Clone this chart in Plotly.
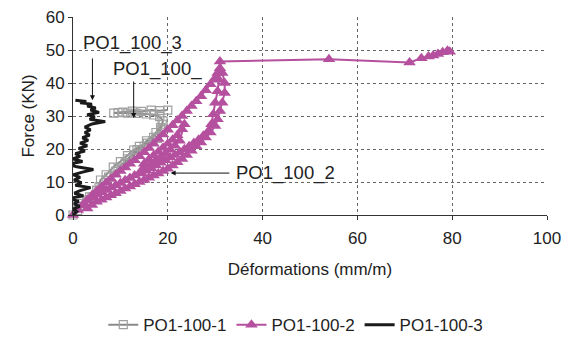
import plotly.graph_objects as go

# PO1-100-1 (gray, open squares)
s1_x = [0, 1, 2, 3, 4, 5, 5.8, 7, 8.5, 10, 11.5, 12.8, 14, 15.7, 16.8, 17.8, 18.5, 18.8,
        17.5, 15.5, 13.5, 11.5, 9.5, 7.5, 5.5, 3.5, 2,
        3, 5, 7, 9, 11, 13, 15, 17, 18.5, 19, 18.3, 17, 15.5, 13.5, 11.5, 9.5, 8.6,
        10.5, 12.5, 14.5, 16.5, 18.3, 20]
s1_y = [0, 1.3, 2.6, 4, 5.5, 7.5, 10.6, 12.2, 14.5, 16.2, 18, 19.7, 20.8, 21.8, 22.5, 23.2, 25.8, 27.5,
        25, 22.5, 19.8, 17, 14.2, 11.5, 8.5, 5.5, 3.5,
        4.5, 7.5, 10.5, 13.2, 15.8, 18.3, 20.8, 23.5, 26.5, 28.5, 29.8, 30.3, 30.6, 30.8, 30.9, 31, 30.9,
        31.2, 31.5, 31.4, 31.8, 31.6, 31.8]

# PO1-100-2 (magenta, triangles)
s2_x = [0, 1, 2, 3, 4, 5, 6, 7, 8, 9, 10, 11, 12, 13, 14, 15, 16, 17, 18, 19, 20, 21, 22, 23, 24, 25, 26, 27, 28, 29, 30, 30.5, 31,
        30.8, 30.5, 30, 29.6, 29.2, 28.5, 27.5, 26.5, 25.5, 24.5, 23.5, 22.5, 21.5, 20.5, 19.5, 18.5, 17.5, 16.5, 15.5, 14.5,
        15, 16, 17, 18, 19, 20, 21, 22, 23, 23.5,
        22.5, 21.5, 20.5, 19.5, 18.5, 17.5, 16.5, 15.5, 14.5, 13, 12, 11, 10, 9, 8, 7, 6, 5, 4, 3, 2.5,
        3, 4, 5, 6, 7, 8, 9, 10, 11, 12, 13, 14, 15, 16, 17, 18, 19, 20, 21, 22, 23, 24, 25, 26, 27, 28, 29, 30, 30.5, 31, 31.5, 32, 32, 31.5, 31,
        54, 71, 73.5, 75, 76, 77, 78, 79, 79.5]
s2_y = [0, 1.5, 3, 4.5, 6, 7.3, 8.5, 9.8, 11, 12.2, 13.3, 14.4, 15.5, 16.6, 17.8, 19, 20.3, 21.6, 23, 24.4, 25.8, 27.2, 28.6, 30, 31.5, 33, 34.5, 36, 37.8, 39.6, 41.5, 43, 44.5,
        41, 37.5, 34, 30.5, 27.5, 25.3, 24, 22.8, 21.8, 20.8, 19.9, 19, 18.2, 17.4, 16.6, 15.8, 15, 14.2, 13.4, 12.6,
        15.5, 16.8, 18, 19.2, 20.4, 21.6, 22.8, 24.2, 26, 27.5,
        22.5, 21, 19.8, 18.7, 17.6, 16.6, 15.6, 14.6, 13.6, 12, 11.2, 10.5, 9.7, 9, 8.3, 7.6, 6.9, 6.2, 5.4, 4.5, 3,
        2, 3, 4, 4.6, 5.3, 6, 6.6, 7.3, 8, 8.6, 9.3, 10, 10.6, 11.3, 12, 12.6, 13.3, 14, 15, 16, 17, 18.2, 19.5, 20.8, 22, 23.5, 25, 27, 29, 31.5, 34, 37, 40, 43, 46.5,
        47.2, 46.2, 47.5, 48, 48.3, 48.8, 49.3, 49.8, 49.5]

# PO1-100-3 (black line)
s3_x = [0, 0.8, 0, 1.4, 0.2, 1.2, -1, 2.2, 0.3, 1.5, 3.7, 0.5, 1.8, 0.2, 1.5, 0, 2, 4.3, 0.8, -1, 2, 0, 1.5, 0.5, 2.5, 1.2, 3, 1.5, 3.2, 2, 3.5, 2.5,
        3.7, 2.5, 4, 6.8, 3.5, 4.6, 3, 5.5, 3.7, 4.8, 3, 4, 1.5, 2.8, 0.5, -2]
s3_y = [0, 1, 1.8, 2.6, 3.4, 4.2, 5, 5.8, 6.6, 7.4, 8.3, 9, 9.8, 10.6, 11.4, 12.2, 13, 13.8, 14.6, 15.4, 16.2, 17, 17.8, 18.6, 19.4, 20.2, 21, 21.8, 22.6, 23.4, 24.2,
        25, 25.8, 26.6, 27.6, 28.3, 29, 29.7, 30.4, 31.1, 31.8, 32.4, 33, 33.6, 34, 34.4, 34.8]

x_ticks = [0, 20, 40, 60, 80, 100]
y_ticks = [0, 10, 20, 30, 40, 50, 60]

gray = "#8a8a8a"
magenta = "#b5509f"
black = "#1a1a1a"
font = "Liberation Sans, Arial, sans-serif"

fig = go.Figure()
fig.add_trace(go.Scatter(x=s1_x, y=s1_y, mode="lines+markers", name="PO1-100-1", cliponaxis=False,
                         line=dict(color=gray, width=2),
                         marker=dict(symbol="square-open", size=8, color="#a0a0a0", line=dict(width=1.2))))
fig.add_trace(go.Scatter(x=s2_x, y=s2_y, mode="lines+markers", name="PO1-100-2", cliponaxis=False,
                         line=dict(color=magenta, width=2),
                         marker=dict(symbol="triangle-up", size=11, color=magenta)))
fig.add_trace(go.Scatter(x=s3_x, y=s3_y, mode="lines", name="PO1-100-3", cliponaxis=False,
                         line=dict(color=black, width=3)))

annots = []
def arrow(x, y, ax, ay):
    annots.append(dict(x=x, y=y, ax=ax, ay=ay, xref="x", yref="y", axref="x", ayref="y",
                       text="", showarrow=True, arrowhead=2, arrowsize=1, arrowwidth=1,
                       arrowcolor="#111"))
arrow(4.1, 34.8, 4.1, 47.9)
arrow(12.8, 29.4, 12.8, 40.9)
arrow(20.6, 12.7, 33.3, 12.7)

def label(txt, x, y, anchor):
    annots.append(dict(x=x, y=y, xref="x", yref="y", text=txt, showarrow=False,
                       xanchor=anchor, yanchor="middle", font=dict(size=18.5, color="#222", family=font)))
label("PO1_100_3", 1.6, 52, "left")
label("PO1_100_", 8.0, 44.2, "left")
label("PO1_100_2", 34.0, 12.7, "left")

fig.update_layout(
    width=571, height=338,
    margin=dict(l=65, r=32, t=9, b=131, autoexpand=False),
    paper_bgcolor="white", plot_bgcolor="white",
    font=dict(family=font, size=17, color="#222"),
    showlegend=True,
    legend=dict(orientation="h", x=0.47, xanchor="center", y=-0.556, yanchor="middle",
                font=dict(size=17, color="#222"), itemwidth=30, tracegroupgap=0),
    annotations=annots,
    xaxis=dict(range=[0, 100], tickvals=x_ticks, showgrid=True, gridcolor="#666", griddash="dot",
               gridwidth=1, showline=True, linecolor="#333", linewidth=1, ticks="outside",
               ticklen=4, tickcolor="#333", zeroline=False, automargin=False, ticklabelstandoff=4,
               ticklabeloverflow="allow",
               title=dict(text="Déformations (mm/m)", font=dict(size=17), standoff=15)),
    yaxis=dict(range=[0, 60], tickvals=y_ticks, showgrid=True, gridcolor="#666", griddash="dot",
               gridwidth=1, showline=True, linecolor="#333", linewidth=1, ticks="outside",
               ticklen=4, tickcolor="#333", zeroline=False, automargin=False,
               ticklabeloverflow="allow",
               title=dict(text="Force (KN)", font=dict(size=17), standoff=6)),
)
fig.write_html("out.html")
